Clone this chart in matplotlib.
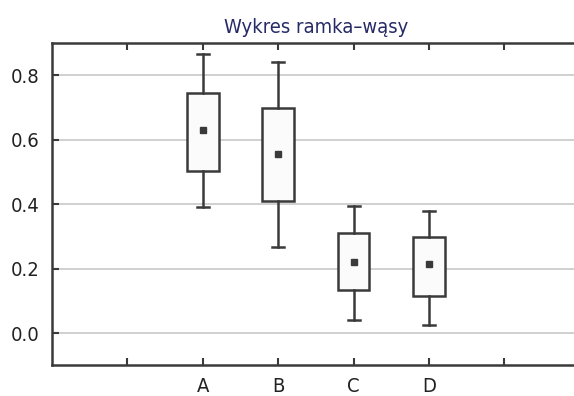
import numpy as np
import matplotlib
matplotlib.use("Agg")
import matplotlib.pyplot as plt

plt.rcParams['font.family'] = ['DejaVu Sans']
plt.rcParams['font.stretch'] = 'condensed'

labels = ["A", "B", "C", "D"]
whisker_low = [0.391, 0.267, 0.043, 0.025]
box_low = [0.502, 0.409, 0.133, 0.115]
center = [0.629, 0.555, 0.220, 0.214]
box_high = [0.744, 0.698, 0.310, 0.298]
whisker_high = [0.865, 0.840, 0.394, 0.378]

positions = [2, 3, 4, 5]
tick_pos = [1, 2, 3, 4, 5, 6]
tick_lab = ["", "A", "B", "C", "D", ""]

line_col = "#3a3a3a"

fig = plt.figure(figsize=(5.74, 3.96), dpi=100)
ax = fig.add_axes([52/574, 31/396, 1 - 52/574 + 0.01, (365-43)/396])

stats = []
for i in range(len(labels)):
    stats.append(dict(label=labels[i], whislo=whisker_low[i], q1=box_low[i],
                      med=center[i], q3=box_high[i], whishi=whisker_high[i],
                      mean=center[i], fliers=[]))

ax.bxp(stats, positions=positions, widths=0.42, showmeans=True,
       showfliers=False, patch_artist=True,
       boxprops=dict(facecolor="#fbfbfb", edgecolor=line_col, linewidth=1.8),
       whiskerprops=dict(color=line_col, linewidth=1.8),
       capprops=dict(color=line_col, linewidth=1.8),
       medianprops=dict(linewidth=0),
       meanprops=dict(marker="s", markersize=4.5, markerfacecolor=line_col,
                      markeredgecolor=line_col),
       capwidths=0.16, zorder=3)

ax.set_xlim(0, 7.0)
ax.set_ylim(-0.098, 0.9)
ax.set_xticks(tick_pos)
ax.set_xticklabels(tick_lab)
ax.set_yticks([0.0, 0.2, 0.4, 0.6, 0.8])
ax.set_yticklabels(["0.0", "0.2", "0.4", "0.6", "0.8"])
ax.yaxis.grid(True, color="#c8c8c8", linewidth=1.2, zorder=0)
ax.set_axisbelow(True)

for s in ["left", "top", "bottom"]:
    ax.spines[s].set_color(line_col)
    ax.spines[s].set_linewidth(1.8)
ax.spines["right"].set_visible(False)

ax.tick_params(axis="both", direction="in", length=5, width=1.5,
               color=line_col, labelsize=14.5, labelcolor="#222222")
ax.tick_params(axis="x", top=True, pad=9)
ax.tick_params(axis="y", pad=9)

ax.set_title("Wykres ramka–wąsy", fontsize=14.5, color="#262a66", pad=7)

fig.savefig("out.png", dpi=100)
